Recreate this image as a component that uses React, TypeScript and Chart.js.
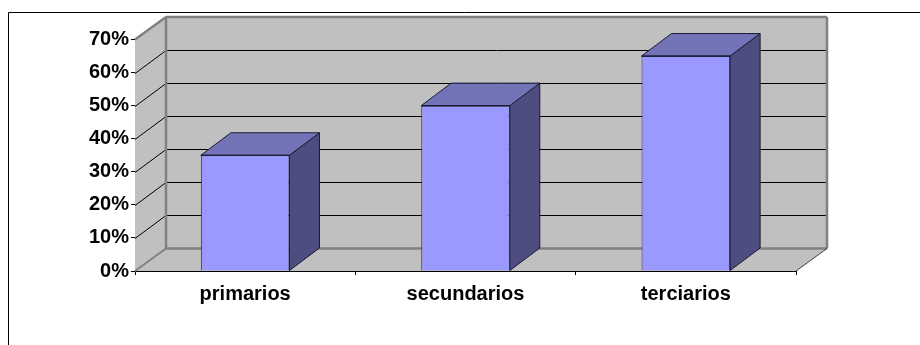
import React, { useEffect, useRef } from "react";
import { Chart, registerables } from "chart.js";

Chart.register(...registerables);

const categories = ["primarios", "secundarios", "terciarios"];
const shareValues = [35, 50, 65];
const axisMax = 70;
const axisStep = 10;

const DEPTH_X = 31;
const DEPTH_Y = 22.5;
const WALL = "#c0c0c0";
const WALL_EDGE = "#808080";
const FRONT = "#9999ff";
const TOP = "#7373b8";
const SIDE = "#4d4d80";
const OUTLINE = "#1a1a33";

function poly(ctx: CanvasRenderingContext2D, pts: number[][], fill?: string, stroke?: string, lw = 1) {
  ctx.beginPath();
  pts.forEach((p, i) => (i ? ctx.lineTo(p[0], p[1]) : ctx.moveTo(p[0], p[1])));
  ctx.closePath();
  if (fill) {
    ctx.fillStyle = fill;
    ctx.fill();
  }
  if (stroke) {
    ctx.strokeStyle = stroke;
    ctx.lineWidth = lw;
    ctx.stroke();
  }
}

function seg(ctx: CanvasRenderingContext2D, x1: number, y1: number, x2: number, y2: number, color: string, lw: number) {
  ctx.beginPath();
  ctx.moveTo(x1, y1);
  ctx.lineTo(x2, y2);
  ctx.strokeStyle = color;
  ctx.lineWidth = lw;
  ctx.stroke();
}

const frame3d = {
  id: "frame3d",
  beforeDraw(chart: any) {
    const ctx: CanvasRenderingContext2D = chart.ctx;
    ctx.save();
    seg(ctx, 8.5, 12.5, 920, 12.5, "#000000", 1);
    seg(ctx, 8.5, 12.5, 8.5, 345, "#000000", 1);
    ctx.restore();
  },
  beforeDatasetsDraw(chart: any) {
    const ctx: CanvasRenderingContext2D = chart.ctx;
    const { left, right, top, bottom } = chart.chartArea;
    const y = chart.scales.y;
    const dx = DEPTH_X;
    const dy = DEPTH_Y;
    ctx.save();
    poly(ctx, [[left, top], [left + dx, top - dy], [left + dx, bottom - dy], [left, bottom]], WALL);
    poly(ctx, [[left + dx, top - dy], [right + dx, top - dy], [right + dx, bottom - dy], [left + dx, bottom - dy]], WALL);
    poly(ctx, [[left, bottom], [left + dx, bottom - dy], [right + dx, bottom - dy], [right, bottom]], WALL);
    y.ticks.forEach((t: any) => {
      if (t.value === 0 || t.value === axisMax) return;
      const py = Math.round(y.getPixelForValue(t.value)) + 0.5;
      const back = Math.floor(y.getPixelForValue(t.value) - dy) + 0.5;
      seg(ctx, left, py, left + dx, back, "#000000", 1);
      seg(ctx, left + dx, back, right + dx, back, "#000000", 1);
    });
    seg(ctx, left + dx, top - dy, right + dx, top - dy, WALL_EDGE, 2.5);
    seg(ctx, left + dx, top - dy, left + dx, bottom - dy, WALL_EDGE, 2.5);
    seg(ctx, right + dx, top - dy, right + dx, bottom - dy, WALL_EDGE, 2.5);
    seg(ctx, left + dx, bottom - dy, right + dx, bottom - dy, WALL_EDGE, 2.5);
    seg(ctx, left, top, left + dx, top - dy, WALL_EDGE, 2.5);
    seg(ctx, left, bottom, left + dx, bottom - dy, WALL_EDGE, 2);
    seg(ctx, right, bottom, right + dx, bottom - dy, "#404040", 1);
    ctx.restore();
  },
  afterDatasetsDraw(chart: any) {
    const ctx: CanvasRenderingContext2D = chart.ctx;
    const dx = DEPTH_X - 1;
    const dy = DEPTH_Y;
    ctx.save();
    chart.getDatasetMeta(0).data.forEach((bar: any) => {
      const l = bar.x - bar.width / 2;
      const r = bar.x + bar.width / 2;
      const t = bar.y;
      const b = bar.base;
      poly(ctx, [[r, t], [r + dx, t - dy], [r + dx, b - dy], [r, b]], SIDE, OUTLINE, 1);
      poly(ctx, [[l, t], [l + dx, t - dy], [r + dx, t - dy], [r, t]], TOP, OUTLINE, 1);
      seg(ctx, l, t, r, t, OUTLINE, 1);
    });
    ctx.restore();
  },
};

export default function App() {
  const ref = useRef<HTMLCanvasElement>(null);
  useEffect(() => {
    document.body.style.margin = "0";
    const font = { family: '"Liberation Sans", Arial, sans-serif', size: 20, weight: "bold" as const };
    const chart = new Chart(ref.current!, {
      type: "bar",
      data: {
        labels: categories,
        datasets: [
          {
            data: shareValues,
            backgroundColor: FRONT,
            borderColor: "#33335a",
            borderWidth: 1,
            categoryPercentage: 1,
            barPercentage: 0.402,
          },
        ],
      },
      options: {
        animation: false,
        responsive: false,
        layout: { padding: { left: 0, right: 124, top: 39.5, bottom: 0 } },
        plugins: { legend: { display: false }, tooltip: { enabled: false }, title: { display: false } },
        scales: {
          x: {
            grid: { drawOnChartArea: false, drawTicks: true, tickLength: 4, color: "#000000" },
            border: { color: "#000000", width: 1 },
            ticks: { color: "#000000", font, padding: 7, maxRotation: 0 },
            afterFit(s: any) {
              s.height = 74;
            },
          },
          y: {
            min: 0,
            max: axisMax,
            grid: { drawOnChartArea: false, drawTicks: true, tickLength: 4, color: "#000000" },
            border: { color: "#404040", width: 1 },
            ticks: {
              color: "#000000",
              font,
              padding: 2,
              stepSize: axisStep,
              callback: (v: any) => `${v}%`,
            },
            afterFit(s: any) {
              s.width = 135;
            },
          },
        },
      },
      plugins: [frame3d],
    });
    return () => chart.destroy();
  }, []);
  return <canvas ref={ref} width={920} height={345} style={{ display: "block" }} />;
}
